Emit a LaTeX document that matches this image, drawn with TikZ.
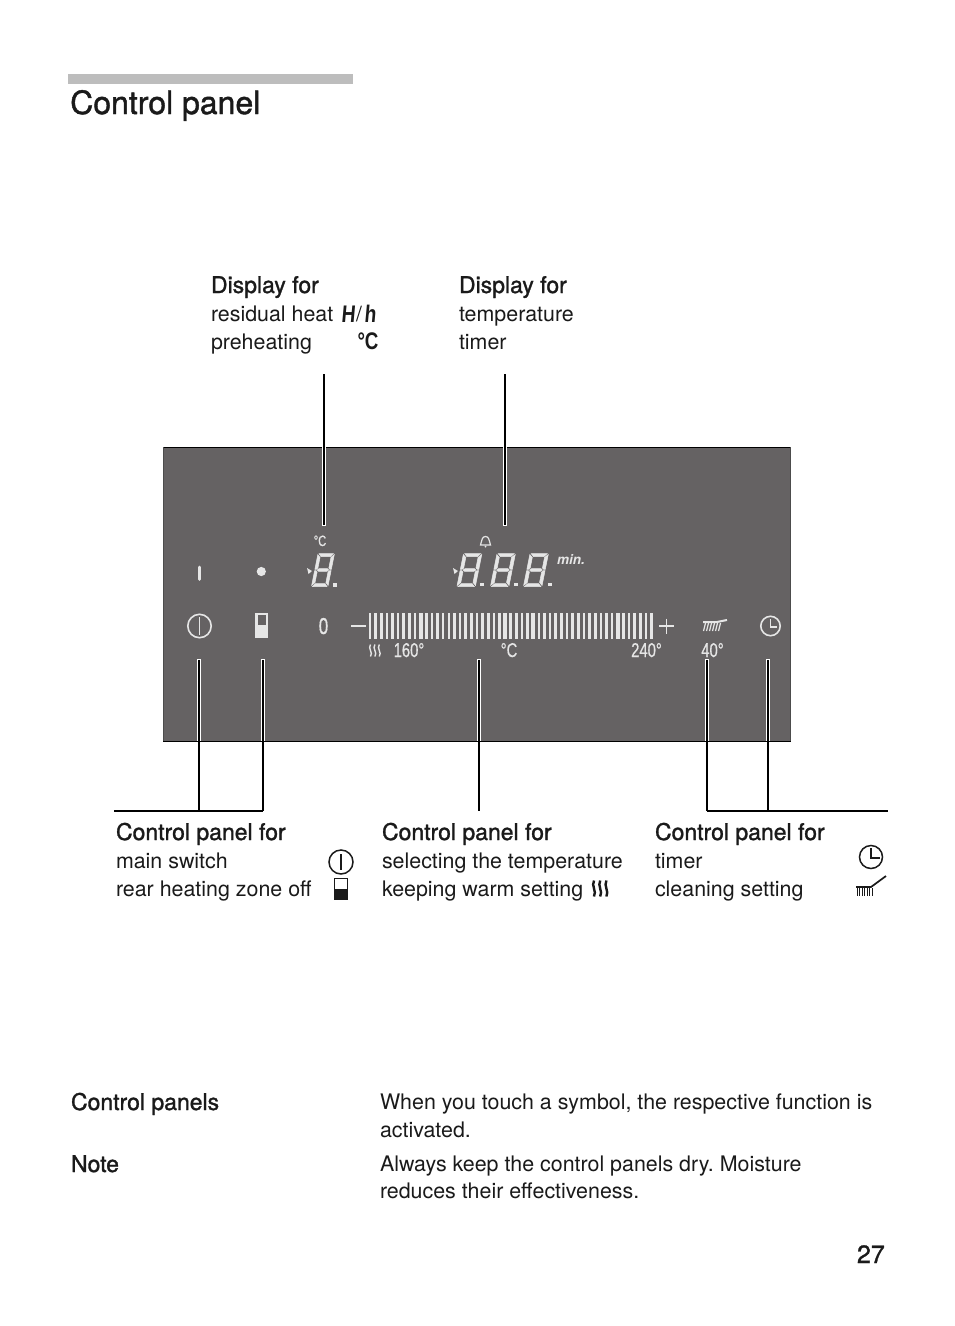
\documentclass[tikz,border=0pt]{standalone}
\usepackage{fontspec}
\setmainfont{TeX Gyre Heros}
\newfontfamily\medf[FakeBold=1.3]{TeX Gyre Heros}
\newfontfamily\condf[FakeStretch=0.74,FakeBold=0.6]{Liberation Sans}
\newfontfamily\condb[FakeStretch=0.78]{Liberation Sans Bold}
\newfontfamily\condbs[FakeStretch=0.8,FakeSlant=0.09]{Liberation Sans Bold}
\definecolor{panelgray}{HTML}{656263}
\definecolor{symw}{HTML}{E6E6E6}
\definecolor{ink}{HTML}{1A1A1A}
\newcommand{\body}{\frenchspacing\fontsize{21.4}{26}\selectfont}
\newcommand{\bodyb}{\frenchspacing\fontsize{23}{26}\selectfont\medf}
\tikzset{
 txt/.style={anchor=base west,inner sep=0pt,outer sep=0pt,text=ink,font=\body},
 txtb/.style={anchor=base west,inner sep=0pt,outer sep=0pt,text=ink,font=\bodyb},
 plabel/.style={anchor=base,inner sep=0pt,outer sep=0pt,text=symw,font=\fontsize{20}{22}\selectfont\condf},
 halo/.style={white,line width=4.2pt},
 leader/.style={black,line width=1.8pt},
 sym/.style={symw,line width=1.6pt},
 syk/.style={ink,line width=1.5pt},
 seg/.style={fill=symw,draw=symw,line width=.5pt},
}
% seven segment digit: (#1,#2) top-left of the upright digit, slanted; #3 horizontal stretch
\newcommand{\segdig}[3]{%
 \begin{scope}[shift={(#1,#2)},x=#3pt,y=-1pt,xslant=0.2]
  \path[seg] (1,0)--(15.5,0)--(13,3)--(3.5,3)--cycle;
  \path[seg] (1,33)--(15.5,33)--(13,30)--(3.5,30)--cycle;
  \path[seg] (2.5,16.5)--(4,15.2)--(12.5,15.2)--(14,16.5)--(12.5,17.8)--(4,17.8)--cycle;
  \path[seg] (0,1)--(2.8,4)--(2.8,14.5)--(1.5,15.8)--(0,15.8)--cycle;
  \path[seg] (0,17.2)--(1.5,17.2)--(2.8,18.5)--(2.8,29)--(0,32)--cycle;
  \path[seg] (16.5,1)--(13.7,4)--(13.7,14.5)--(15,15.8)--(16.5,15.8)--cycle;
  \path[seg] (16.5,17.2)--(15,17.2)--(13.7,18.5)--(13.7,29)--(16.5,32)--cycle;
 \end{scope}}
% three wavy heat lines: x, y, line width, colour, pitch, height
\newcommand{\heat}[6]{%
 \foreach \hx in {0,1,2}{
  \draw[#4,line width=#3] ({#1+\hx*#5},#2) .. controls ({#1+\hx*#5-3},{#2+#6/3}) and ({#1+\hx*#5+3},{#2+#6*2/3}) .. ({#1+\hx*#5},{#2+#6});
 }}
\begin{document}
\begin{tikzpicture}[x=1pt,y=-1pt]
\useasboundingbox (0,0) rectangle (954,1326);
\fill[white] (0,0) rectangle (954,1326);
% heading
\fill[black!26] (68,74) rectangle (353,84);
\node[anchor=base west,inner sep=0pt,text=ink,font=\fontsize{32}{36}\selectfont\medf] (title) at (70,114) {Control panel};
% panel
\fill[panelgray] (163,447) rectangle (790.5,741);
\draw[black,line width=1pt] (163,447) -- (790.5,447);
\draw[black,line width=1pt] (163,741) -- (790.5,741);
\draw[black!70,line width=.7pt] (163,447) -- (163,741);
\draw[black!70,line width=.7pt] (790.5,447) -- (790.5,741);
% upper text
\node[txtb] (t1) at (211,293) {Display for};
\node[txt] (t2) at (211,321) {residual heat};
\node[txt] (t3) at (211,349) {preheating};
\node[anchor=base,inner sep=0pt,text=ink,font=\fontsize{24}{26}\selectfont\condbs] (hh) at (348,322.5) {H};
\node[anchor=base,inner sep=0pt,text=ink,font=\fontsize{21}{26}\selectfont] (sl) at (359,321.5) {/};
\node[anchor=base,inner sep=0pt,text=ink,font=\fontsize{24}{26}\selectfont\condbs] (hl) at (370,322.5) {h};
\node[anchor=base,inner sep=0pt,text=ink,font=\fontsize{24}{26}\selectfont\condb] (dc) at (368,349) {°C};
\node[txtb] (u1) at (459,293) {Display for};
\node[txt] (u2) at (459,321) {temperature};
\node[txt] (u3) at (459,349) {timer};
% lower text
\node[txtb] (a1) at (116,840) {Control panel for};
\node[txt] (a2) at (116,868) {main switch};
\node[txt] (a3) at (116,896) {rear heating zone off};
\node[txtb] (b1) at (382,840) {Control panel for};
\node[txt] (b2) at (382,868) {selecting the temperature};
\node[txt] (b3) at (382,896) {keeping warm setting};
\node[txtb] (c1) at (655,840) {Control panel for};
\node[txt] (c2) at (655,868) {timer};
\node[txt] (c3) at (655,896) {cleaning setting};
\node[txtb] (d1) at (71,1110) {Control panels};
\node[txt] (d2) at (380,1109.5) {When you touch a symbol, the respective function is};
\node[txt] (d3) at (380,1137.5) {activated.};
\node[txtb] (e1) at (71,1172) {Note};
\node[txt] (e2) at (380,1171.5) {Always keep the control panels dry. Moisture};
\node[txt] (e3) at (380,1198.5) {reduces their effectiveness.};
\node[anchor=base east,inner sep=0pt,text=ink,font=\fontsize{25}{28}\selectfont\medf] (pg) at (885,1263) {27};
% text symbols
\draw[syk] (341,862) circle (12);
\draw[syk] (341,854) -- (341,870);
\draw[syk,line width=1.3pt] (334.5,878.5) rectangle (347.5,891);
\fill[ink] (334,889) rectangle (348,900);
\heat{594}{880.5}{2.4pt}{ink}{6.2}{16}
\draw[syk] (871,857) circle (11.5);
\draw[syk] (871,848) -- (871,858) -- (880,858);
\draw[ink,line width=1.7pt] (856,887) -- (871,887) -- (886,876);
\foreach \q in {857,859.5,...,872}{\draw[ink,line width=1pt] (\q,888) -- (\q,896);}
% leaders
\coordinate (l1a) at (324,374); \coordinate (l1b) at (324,525);
\coordinate (l2a) at (505,374); \coordinate (l2b) at (505,525);
\coordinate (r1a) at (114,811); \coordinate (r1b) at (263,811);
\coordinate (r2a) at (707,811); \coordinate (r2b) at (888,811);
\coordinate (v1a) at (199,660); \coordinate (v1b) at (199,811);
\coordinate (v2a) at (263,660); \coordinate (v2b) at (263,811);
\coordinate (v3a) at (479,660); \coordinate (v3b) at (479,811);
\coordinate (v4a) at (707,660); \coordinate (v4b) at (707,811);
\coordinate (v5a) at (768,660); \coordinate (v5b) at (768,811);
\foreach \pt/\q in {324/526,505/526}{\draw[halo] (\pt,447) -- (\pt,\q);}
\foreach \pt in {199,263,479,707,768}{\draw[halo] (\pt,659) -- (\pt,741);}
\draw[leader] (l1a) -- (l1b);
\draw[leader] (l2a) -- (l2b);
\draw[leader] (v1a) -- (v1b);
\draw[leader] (v2a) -- (v2b);
\draw[leader] (v3a) -- (v3b);
\draw[leader] (v4a) -- (v4b);
\draw[leader] (v5a) -- (v5b);
\draw[leader] (r1a) -- (r1b);
\draw[leader] (r2a) -- (r2b);
% panel: left symbols
\draw[symw,line width=2.6pt,line cap=round] (199.5,567) -- (199.5,579.5);
\fill[symw] (261.3,571.5) circle (4.6);
\draw[sym] (199.5,626) circle (11.7);
\draw[sym,line width=1.3pt] (199.5,617) -- (199.5,635);
\fill[symw] (255,613) rectangle (268,638);
\fill[panelgray] (257.5,615) rectangle (265.5,625);
% small display
\node[plabel,font=\fontsize{15}{16}\selectfont\condf] (cdeg) at (320,546) {°C};
\segdig{318}{553.5}{1}
\fill[symw] (333,582.5) rectangle (337,586.5);
\fill[symw] (307,568) -- (312,571) -- (308.5,574) -- cycle;
% zero
\node[plabel,font=\fontsize{23}{24}\selectfont\condf] (zero) at (323.5,634) {0};
\draw[symw,line width=1.6pt] (351,626) -- (366,626);
% slider
\foreach \q in {0,...,50}{\fill[symw] ({370+\q*5.63-1.3},612.5) rectangle ({370+\q*5.63+1.3},639);}
\foreach \q in {9,24,29,44}{\fill[symw] ({370+\q*5.63-2},612.5) rectangle ({370+\q*5.63+2},639);}
\draw[symw,line width=1.7pt] (659,626) -- (674,626);
\draw[symw,line width=1.7pt] (666.5,618.5) -- (666.5,633.5);
% slider labels
\heat{370.5}{644.5}{1.4pt}{symw}{4.4}{12}
\node[plabel] (p160) at (409,657) {160°};
\node[plabel] (pc) at (509,657) {°C};
\node[plabel] (p240) at (646.5,657) {240°};
\node[plabel] (p40) at (712.5,657) {40°};
% big display
\draw[symw,line width=1.2pt] (480.5,545) .. controls (482,540) and (482,536.5) .. (485.5,536.5) .. controls (489,536.5) and (489,540) .. (490.5,545) -- cycle;
\fill[symw] (485.5,546.5) circle (1);
\segdig{463.5}{553.5}{1.12}
\segdig{497}{553.5}{1.12}
\segdig{530}{553.5}{1.12}
\fill[symw] (480,582.5) rectangle (483.5,586);
\fill[symw] (514,582.5) rectangle (517.5,586);
\fill[symw] (548,582.5) rectangle (551.5,586);
\fill[symw] (453,568) -- (458,571) -- (454.5,574) -- cycle;
\node[anchor=base west,inner sep=0pt,text=symw,font=\fontsize{13.5}{15}\selectfont\itshape\bfseries] (min) at (557,564) {min.};
% brush
\draw[symw,line width=2pt] (703,622) -- (717,622) -- (727,620);
\foreach \q in {0,1,2,3,4,5}{\draw[symw,line width=1.2pt] ({705.5+\q*3},623) -- ({703.5+\q*3},631);}
% clock
\draw[sym] (770.5,626) circle (9.7);
\draw[sym] (770.5,619) -- (770.5,627) -- (777,627);
\end{tikzpicture}
\end{document}
